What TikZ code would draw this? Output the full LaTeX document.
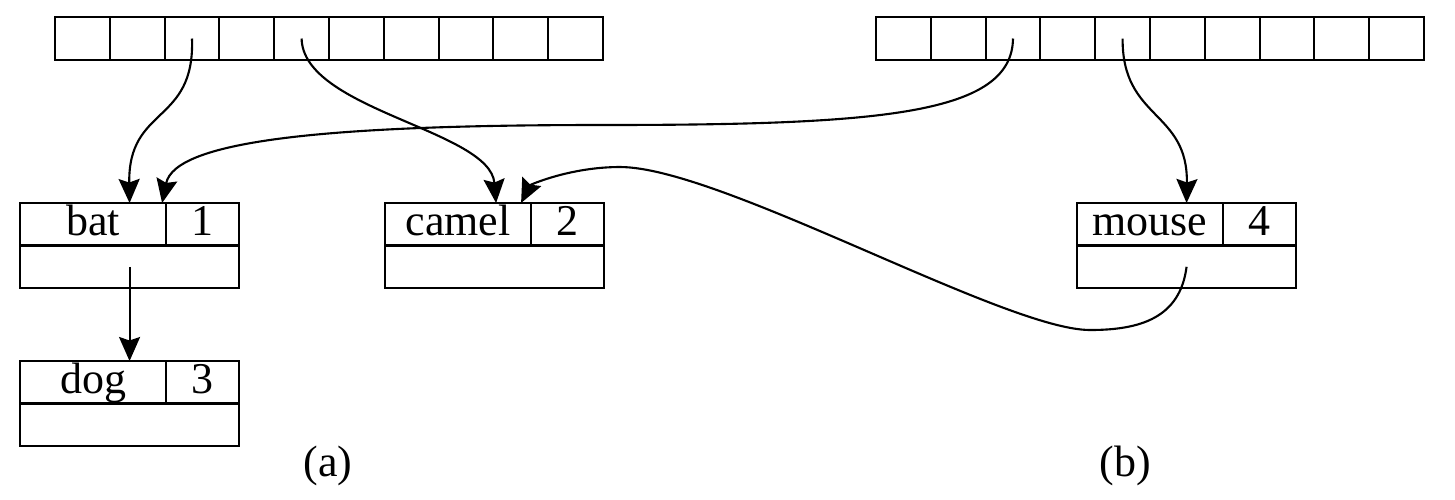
\documentclass[tikz,border=0pt]{standalone}
\usepackage{fontspec}
\setmainfont{Liberation Serif}
\usepackage{tikz}
\usetikzlibrary{positioning,arrows.meta}

\tikzset{
  cell/.style={draw, line width=0.6pt, minimum width=0.548cm, minimum height=0.43cm, inner sep=0pt, outer sep=0pt},
  keycell/.style={draw, line width=0.6pt, minimum width=1.46cm, minimum height=0.425cm, inner sep=0pt, outer sep=0pt, anchor=north west, text height=9pt, text depth=2.5pt},
  valcell/.style={keycell, minimum width=0.73cm},
  nextcell/.style={keycell, minimum width=2.19cm},
  ptr/.style={line width=0.6pt, -{Stealth[length=0.24cm, width=0.21cm, inset=0.035cm]}}
}

\begin{document}
\begin{tikzpicture}[x=0.01cm, y=-0.01cm, font=\fontsize{12.5}{15}\selectfont]
\useasboundingbox (0,0) rectangle (1455,499);
\foreach \i in {0,...,9} {
  \node[cell] (la\i) at ({82.4+54.8*\i},38.5) {};
  \node[cell] (ra\i) at ({903.4+54.8*\i},38.5) {};
}
\node[keycell] (batkey) at (20,203) {bat};
\node[valcell, right=0pt of batkey] (batval) {1};
\node[nextcell] (batnext) at (batkey.south west) {};
\node[keycell] (dogkey) at (20,361) {dog};
\node[valcell, right=0pt of dogkey] (dogval) {3};
\node[nextcell] (dognext) at (dogkey.south west) {};
\node[keycell] (camelkey) at (385,203) {camel};
\node[valcell, right=0pt of camelkey] (camelval) {2};
\node[nextcell] (camelnext) at (camelkey.south west) {};
\node[keycell] (mousekey) at (1077,203) {mouse};
\node[valcell, right=0pt of mousekey] (mouseval) {4};
\node[nextcell] (mousenext) at (mousekey.south west) {};
\coordinate (farbend) at (600,125);
\coordinate (lowbend) at (1090,330);
\coordinate (topbend) at (620,167);
\draw[ptr] (la2.center) .. controls (195,125) and (128,105) .. (batkey.north -| batnext.center);
\draw[ptr] (la4.center) .. controls (303,110) and (490,130) .. ([xshift=-0.35cm]camelkey.north east);
\draw[ptr] (ra2.center) .. controls (1012,115) and (880,125) .. (farbend) .. controls (330,125) and (175,140) .. ([xshift=-0.04cm]batkey.north east);
\draw[ptr] (ra4.center) .. controls (1122,120) and (1188,110) .. (mousekey.north -| mousenext.center);
\draw[ptr] (mousenext.center) .. controls (1180,318) and (1140,330) .. (lowbend) .. controls (1005,330) and (720,167) .. (topbend) .. controls (570,167) and (530,185) .. ([xshift=-0.1cm]camelkey.north east);
\draw[ptr] (batnext.center) -- (dogkey.north -| batnext.center);
\node (lbla) at (328,466) {(a)};
\node (lblb) at (1125,466) {(b)};
\end{tikzpicture}
\end{document}
